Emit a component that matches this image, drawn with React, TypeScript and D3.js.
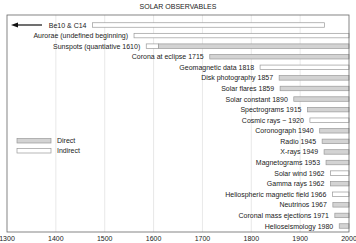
import React from "react";
import * as d3 from "d3";

const labels = [
  "Be10 & C14",
  "Aurorae (undefined beginning)",
  "Sunspots (quantiative 1610)",
  "Corona at eclipse 1715",
  "Geomagnetic data 1818",
  "Disk photography 1857",
  "Solar flares 1859",
  "Solar constant 1890",
  "Spectrograms 1915",
  "Cosmic rays ~ 1920",
  "Coronograph 1940",
  "Radio 1945",
  "X-rays 1949",
  "Magnetograms 1953",
  "Solar wind 1962",
  "Gamma rays 1962",
  "Heliospheric magnetic field 1966",
  "Neutrinos 1967",
  "Coronal mass ejections 1971",
  "Helioseismology 1980",
];
// indirect period start/end (null if none)
const indirectStart: (number | null)[] = [1475, 1560, 1585, null, 1818, null, null, null, null, 1920, null, null, null, null, 1962, null, 1966, null, null, null];
const indirectEnd: (number | null)[] = [1950, 2000, 1610, null, 2000, null, null, null, null, 2000, null, null, null, null, 2000, null, 2000, null, null, null];
// direct period start (null if none)
const directStart: (number | null)[] = [null, null, 1610, 1715, null, 1857, 1859, 1887, 1915, null, 1940, 1945, 1949, 1953, null, 1962, null, 1967, 1971, 1980];
const directEnd = 2000;
const xTicks = [1300, 1400, 1500, 1600, 1700, 1800, 1900, 2000];

const W = 356, H = 243;
const left = 7, right = 349, top = 15, bottom = 232;
const font = "Liberation Sans, Arial, sans-serif";

export default function App() {
  const x = d3.scaleLinear().domain([1300, 2000]).range([left, right]);
  const y = d3.scalePoint<string>().domain(labels).range([25, 226]);
  const bh = 4.5;
  return (
    <svg width={W} height={H} style={{ position: "absolute", left: 0, top: 0 }} fontFamily={font}>
      <rect x={0} y={0} width={W} height={H} fill="#fff" />
      <text x={178} y={9} fontSize={7} textAnchor="middle" fill="#222">SOLAR OBSERVABLES</text>
      {xTicks.slice(1, -1).map((t) => (
        <line key={t} x1={x(t)} x2={x(t)} y1={top} y2={bottom} stroke="#e2e2e2" strokeWidth={0.8} />
      ))}
      {labels.map((lab, i) => {
        const cy = y(lab)!;
        const is = indirectStart[i];
        const ie = indirectEnd[i];
        const ds = directStart[i];
        const first = is != null ? is : (ds as number);
        return (
          <g key={lab}>
            {is != null && ie != null && (
              <rect x={x(is)} y={cy - bh / 2} width={x(ie) - x(is)} height={bh} fill="#fff" stroke="#999" strokeWidth={0.7} />
            )}
            {ds != null && (
              <rect x={x(ds)} y={cy - bh / 2} width={x(directEnd) - x(ds)} height={bh} fill="#d3d3d3" stroke="#999" strokeWidth={0.7} />
            )}
            <text x={x(first) - 6} y={cy + 2.5} fontSize={7} textAnchor="end" fill="#222">{lab}</text>
          </g>
        );
      })}
      {/* arrow for Be10 */}
      <line x1={16} x2={42} y1={y(labels[0])!} y2={y(labels[0])!} stroke="#111" strokeWidth={1.2} />
      <path d={`M11,${y(labels[0])!} L18,${y(labels[0])! - 2.5} L18,${y(labels[0])! + 2.5} Z`} fill="#111" />
      {/* legend */}
      <rect x={17} y={138.5} width={34} height={4.5} fill="#d3d3d3" stroke="#999" strokeWidth={0.7} />
      <text x={57} y={143} fontSize={7} fill="#222">Direct</text>
      <rect x={17} y={148.5} width={34} height={4.5} fill="#fff" stroke="#999" strokeWidth={0.7} />
      <text x={57} y={153} fontSize={7} fill="#222">Indirect</text>
      <rect x={left} y={top} width={right - left} height={bottom - top} fill="none" stroke="#666" strokeWidth={0.8} />
      {xTicks.map((t) => (
        <text key={t} x={x(t)} y={241} fontSize={7} textAnchor="middle" fill="#222">{t}</text>
      ))}
    </svg>
  );
}
